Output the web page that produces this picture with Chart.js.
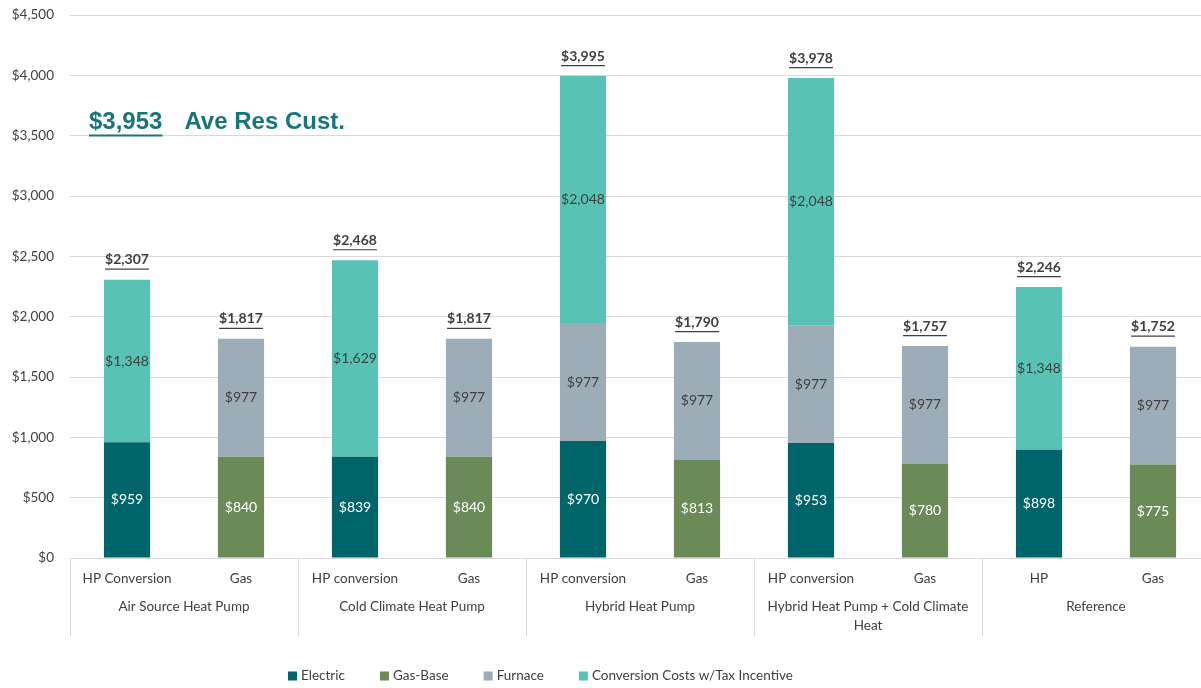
<!DOCTYPE html>
<html>
<head>
<meta charset="utf-8">
<script src="https://cdn.jsdelivr.net/npm/chart.js@4.4.1/dist/chart.umd.min.js"></script>
<style>
  html, body { margin: 0; padding: 0; background: #ffffff; overflow: hidden; }
  #wrap { width: 1201px; height: 688px; overflow: hidden; }
  #c { display: block; margin-top: -9px; }
</style>
</head>
<body>
<div id="wrap"><canvas id="c" width="1210" height="697"></canvas></div>
<script>
// Annual cost per residential customer, by heating option
const categories = ['HP Conversion', 'Gas', 'HP conversion', 'Gas', 'HP conversion', 'Gas', 'HP conversion', 'Gas', 'HP', 'Gas'];
const groups = [
  ['Air Source Heat Pump'],
  ['Cold Climate Heat Pump'],
  ['Hybrid Heat Pump'],
  ['Hybrid Heat Pump + Cold Climate', 'Heat'],
  ['Reference']
];
const electric   = [959, 0, 839, 0, 970, 0, 953, 0, 898, 0];
const gasBase    = [0, 840, 0, 840, 0, 813, 0, 780, 0, 775];
const furnace    = [0, 977, 0, 977, 977, 977, 977, 977, 0, 977];
const conversion = [1348, 0, 1629, 0, 2048, 0, 2048, 0, 1348, 0];
const yTicks = [0, 500, 1000, 1500, 2000, 2500, 3000, 3500, 4000, 4500];
const avgResCustomer = 3953;

const FONT = 'Lato, "Open Sans", sans-serif';
const TEXT = '#404040';
const money = v => '$' + v.toLocaleString('en-US');

// Values inside segments, underlined totals on top
const barLabels = {
  id: 'barLabels',
  afterDatasetsDraw(chart) {
    const ctx = chart.ctx;
    const y = chart.scales.y;
    ctx.save();
    ctx.textAlign = 'center';
    ctx.textBaseline = 'middle';
    ctx.font = '14px ' + FONT;
    chart.data.datasets.forEach((ds, di) => {
      const meta = chart.getDatasetMeta(di);
      meta.data.forEach((bar, i) => {
        const v = ds.data[i];
        if (!v) return;
        ctx.fillStyle = ds.labelColor;
        ctx.fillText(money(v), bar.x, (bar.y + bar.base) / 2);
      });
    });
    ctx.font = 'bold 14px ' + FONT;
    ctx.fillStyle = TEXT;
    ctx.strokeStyle = TEXT;
    ctx.lineWidth = 1.2;
    categories.forEach((c, i) => {
      const total = chart.data.datasets.reduce((s, ds) => s + ds.data[i], 0);
      const x = chart.getDatasetMeta(0).data[i].x;
      const ty = y.getPixelForValue(total) - 20;
      const txt = money(total);
      ctx.fillText(txt, x, ty);
      const w = ctx.measureText(txt).width;
      ctx.beginPath();
      ctx.moveTo(x - w / 2, ty + 9.5);
      ctx.lineTo(x + w / 2, ty + 9.5);
      ctx.stroke();
    });
    ctx.restore();
  }
};

// Group names and separators under the category axis, the legend and the average note
const groupAxis = {
  id: 'groupAxis',
  afterDraw(chart) {
    const ctx = chart.ctx;
    const x = chart.scales.x;
    const y = chart.scales.y;
    const area = chart.chartArea;
    const step = (area.right - area.left) / categories.length;
    ctx.save();
    ctx.strokeStyle = '#d9d9d9';
    ctx.lineWidth = 1;
    for (let g = 0; g < groups.length; g++) {
      const bx = Math.round(area.left + g * 2 * step) + 0.5;
      ctx.beginPath();
      ctx.moveTo(bx, area.bottom);
      ctx.lineTo(bx, area.bottom + 78);
      ctx.stroke();
    }
    ctx.fillStyle = TEXT;
    ctx.font = '13.5px ' + FONT;
    ctx.textAlign = 'center';
    ctx.textBaseline = 'middle';
    groups.forEach((lines, g) => {
      const cx = (x.getPixelForValue(2 * g) + x.getPixelForValue(2 * g + 1)) / 2;
      lines.forEach((ln, k) => ctx.fillText(ln, cx, area.bottom + 49 + k * 19));
    });

    // Legend row
    ctx.textAlign = 'left';
    ctx.font = '13.5px ' + FONT;
    let lx = area.left + 218;
    const ly = area.bottom + 118;
    chart.data.datasets.forEach(ds => {
      ctx.fillStyle = ds.backgroundColor;
      ctx.fillRect(lx, ly - 4.5, 9, 9);
      ctx.fillStyle = TEXT;
      ctx.fillText(ds.label, lx + 13, ly);
      lx += 13 + ctx.measureText(ds.label).width + 35;
    });

    // Average residential customer note
    const ny = y.getPixelForValue(3610);
    const nx = area.left + 19;
    ctx.fillStyle = '#17767a';
    ctx.strokeStyle = '#17767a';
    ctx.font = 'bold 24px "Liberation Sans", Arial, sans-serif';
    const amt = money(avgResCustomer);
    ctx.fillText(amt, nx, ny);
    const aw = ctx.measureText(amt).width;
    ctx.lineWidth = 2;
    ctx.beginPath();
    ctx.moveTo(nx, ny + 13);
    ctx.lineTo(nx + aw, ny + 13);
    ctx.stroke();
    ctx.fillText('Ave Res Cust.', nx + aw + 22, ny);
    ctx.restore();
  }
};

const seg = (label, data, color, labelColor) => ({
  label, data, backgroundColor: color, labelColor,
  borderWidth: 0, categoryPercentage: 1.0, barPercentage: 0.405
});

new Chart(document.getElementById('c'), {
  type: 'bar',
  data: {
    labels: categories,
    datasets: [
      seg('Electric', electric, '#00656b', '#ffffff'),
      seg('Gas-Base', gasBase, '#6a8a57', '#ffffff'),
      seg('Furnace', furnace, '#9dadb7', TEXT),
      seg('Conversion Costs w/Tax Incentive', conversion, '#58c3b4', TEXT)
    ]
  },
  options: {
    responsive: false,
    animation: false,
    layout: { padding: { top: 0, right: 0, left: 0, bottom: 40 } },
    scales: {
      x: {
        stacked: true,
        grid: { display: false },
        border: { display: false },
        ticks: { color: TEXT, font: { family: FONT, size: 13.5 }, padding: 5, maxRotation: 0, autoSkip: false },
        afterFit(s) { s.height = 90; }
      },
      y: {
        stacked: true,
        min: 0, max: 4500,
        afterBuildTicks(s) { s.ticks = yTicks.map(v => ({ value: v })); },
        grid: { color: '#d9d9d9', drawTicks: false },
        border: { display: false },
        ticks: { color: TEXT, font: { family: FONT, size: 13.5 }, padding: 16, callback: v => money(v) },
        afterFit(s) { s.width = 70; }
      }
    },
    plugins: {
      legend: { display: false },
      tooltip: { enabled: false }
    }
  },
  plugins: [barLabels, groupAxis]
});
</script>
</body>
</html>
